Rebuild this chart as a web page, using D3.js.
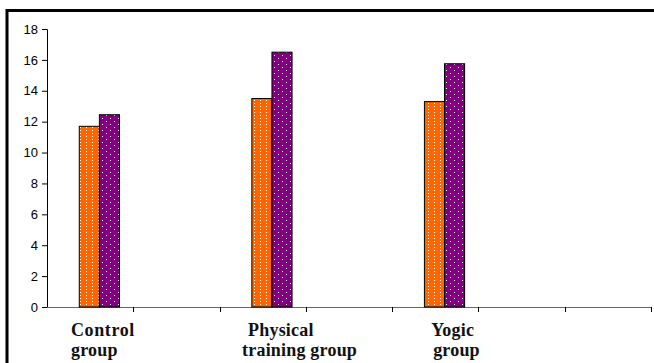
<!DOCTYPE html>
<html><head><meta charset="utf-8">
<script src="https://cdn.jsdelivr.net/npm/d3@7"></script>
<style>html,body{margin:0;padding:0;background:#fff;}svg{display:block;}
.ytick text{font-family:"Liberation Sans",Arial,sans-serif;font-size:13px;}
.catlabel{font-family:"Liberation Serif","Times New Roman",serif;font-weight:bold;font-size:18px;}
</style>
</head><body>
<svg id="chart" width="654" height="363"></svg>
<script>
// ---- data ----
const slots = ["Control group", "gap1", "Physical training group", "gap2", "Yogic group", "gap3", "gap4"];
const categories = ["Control group", "Physical training group", "Yogic group"];
const labelLines = [["Control", "group"], ["Physical", "training group"], ["Yogic", "group"]];
const series = ["Series 1", "Series 2"];
const series1Values = [11.7, 13.5, 13.3];
const series2Values = [12.45, 16.5, 15.75];
const yTicks = [0, 2, 4, 6, 8, 10, 12, 14, 16, 18];

// ---- layout ----
const svg = d3.select("#chart");
const mLeft = 47, mRight = 651, mTop = 29, mBottom = 307;
const x = d3.scaleBand().domain(slots).range([mLeft, mRight]).padding(0);
const y = d3.scaleLinear().domain([0, 18]).range([mBottom, mTop]);
const bw = x.bandwidth();
const xs = d3.scaleBand().domain(series).range([bw * 0.374, bw * 0.84]).padding(0);

// outer frame
svg.append("rect").attr("x", 7).attr("y", 10.5).attr("width", 700).attr("height", 400)
  .attr("fill", "#fff").attr("stroke", "#000").attr("stroke-width", 3);

// patterns
const defs = svg.append("defs");
const p1 = defs.append("pattern").attr("id", "pat1").attr("patternUnits", "userSpaceOnUse")
  .attr("width", 6).attr("height", 3);
p1.append("rect").attr("width", 6).attr("height", 3).attr("fill", "#FF6600");
p1.append("rect").attr("x", 2).attr("y", 1).attr("width", 1).attr("height", 1).attr("fill", "#fff");
const p2 = defs.append("pattern").attr("id", "pat2").attr("patternUnits", "userSpaceOnUse")
  .attr("width", 8).attr("height", 6);
p2.append("rect").attr("width", 8).attr("height", 6).attr("fill", "#800080");
p2.append("rect").attr("x", 2).attr("y", 1).attr("width", 1).attr("height", 1).attr("fill", "#fff");
p2.append("rect").attr("x", 6).attr("y", 4).attr("width", 1).attr("height", 1).attr("fill", "#fff");

// y axis
const yAxis = svg.append("g").attr("class", "ytick").attr("transform", `translate(${mLeft},0)`)
  .call(d3.axisLeft(y).tickValues(yTicks).tickSize(5).tickPadding(4));
yAxis.attr("font-family", null).attr("font-size", null);
yAxis.select(".domain").attr("stroke", "#000");
yAxis.selectAll(".tick line").attr("stroke", "#000");
yAxis.selectAll("text").attr("fill", "#000");

// x axis
const xAxis = svg.append("g").attr("transform", `translate(0,${mBottom})`)
  .call(d3.axisBottom(x).tickSize(0).tickFormat(""));
xAxis.select(".domain").attr("stroke", "#666");
xAxis.selectAll(".tick").remove();
const bounds = slots.map(s => x(s) + bw);
xAxis.selectAll("line.bt").data(bounds).join("line").attr("class", "bt")
  .attr("x1", d => Math.round(d) + 0.5).attr("x2", d => Math.round(d) + 0.5)
  .attr("y1", 0).attr("y2", 5).attr("stroke", "#000");

// bars
const rows = categories.map((c, i) => ({ c, vals: [series1Values[i], series2Values[i]] }));
const g = svg.append("g");
rows.forEach(r => {
  r.vals.forEach((v, j) => {
    g.append("rect")
      .attr("x", x(r.c) + xs(series[j]))
      .attr("y", y(v))
      .attr("width", xs.bandwidth())
      .attr("height", y(0) - y(v))
      .attr("fill", j === 0 ? "url(#pat1)" : "url(#pat2)")
      .attr("stroke", "#000").attr("stroke-width", 1);
  });
});

// category labels
const lineOffsets = [[24, 24], [28.5, 22.5], [39, 41]];
categories.forEach((c, i) => {
  labelLines[i].forEach((t, k) => {
    svg.append("text").attr("class", "catlabel")
      .attr("x", x(c) + lineOffsets[i][k]).attr("y", 336 + k * 20)
      .attr("fill", "#111")
      .attr("letter-spacing", k === 0 && i === 0 ? 0.6 : 0.2)
      .text(t);
  });
});
</script>
</body></html>
